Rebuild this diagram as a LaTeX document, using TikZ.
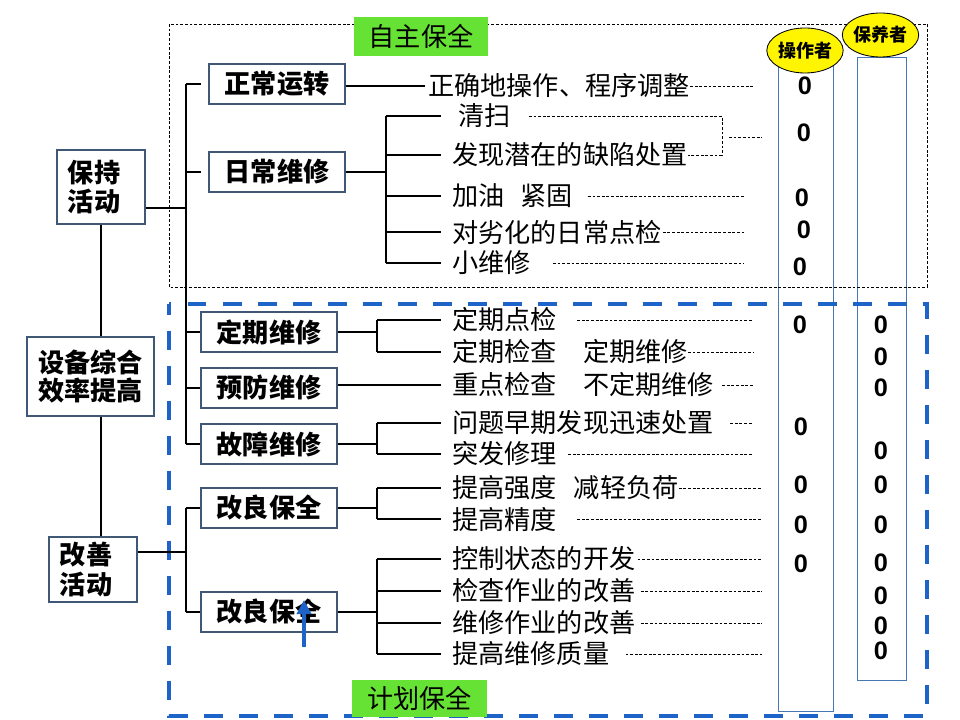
\documentclass[tikz,border=0pt]{standalone}
\usepackage{fontspec}
\setmainfont{Liberation Sans}
\newfontfamily\cjk{Noto Sans CJK SC}
\newfontfamily\zerof{Liberation Sans}
\usetikzlibrary{shapes.geometric,arrows.meta}
\definecolor{boxc}{RGB}{62,88,118}
\definecolor{colc}{RGB}{70,120,180}
\definecolor{blued}{RGB}{30,100,200}
\definecolor{greenl}{RGB}{102,226,52}
\definecolor{yell}{RGB}{255,245,0}
\begin{document}
\begin{tikzpicture}[x=0.025cm,y=-0.025cm,
  box/.style={draw=boxc,line width=0.8pt,fill=white,inner sep=0pt,font=\cjk\bfseries\fontsize{18.6pt}{21pt}\selectfont,minimum width=3.4cm,minimum height=1cm},
  sidebox/.style={draw=boxc,line width=0.8pt,fill=white,inner sep=0pt,font=\cjk\bfseries\fontsize{18.6pt}{21pt}\selectfont},
  item/.style={anchor=west,inner sep=0pt,font=\cjk\fontsize{18.6pt}{21pt}\selectfont},
  tree/.style={line width=0.9pt,black},
  lead/.style={line width=0.6pt,dash pattern=on 2pt off 1.3pt},
  zero/.style={inner sep=0pt,font=\zerof\bfseries\fontsize{18pt}{20pt}\selectfont},
  tag/.style={fill=greenl,inner sep=0pt,font=\cjk\fontsize{18.6pt}{21pt}\selectfont},
  who/.style={ellipse,draw=black,line width=0.6pt,fill=yell,inner sep=0pt,font=\cjk\bfseries\fontsize{12.8pt}{14pt}\selectfont},
  colbox/.style={draw=colc,line width=0.7pt},
  bluedash/.style={draw=blued,line width=2.8pt,dash pattern=on 13.5pt off 11.4pt,dash phase=6pt},
  blackdot/.style={draw=black,line width=0.6pt,dash pattern=on 2pt off 1.3pt},
  arrowc/.style={draw=blued,line width=2.6pt,-{Triangle[length=10pt,width=10pt]}}
]
\useasboundingbox (0,0) rectangle (960,720);

% columns
\draw[colbox] (778,62) rectangle (833,711);
\draw[colbox] (857,57) rectangle (906,680);

% group frames
\draw[bluedash] (169,304) rectangle (927,716);
\draw[blackdot] (169,24) rectangle (927,287);

% left boxes
\node[sidebox,minimum width=2.2cm,minimum height=1.85cm,text width=1.65cm,align=left] (keep) at (101,187) {保持\\活动};
\node[sidebox,minimum width=3.175cm,minimum height=1.975cm,align=center,font=\cjk\bfseries\fontsize{18.6pt}{20pt}\selectfont] (oee) at (90.5,376.5) {设备综合\\效率提高};
\node[sidebox,minimum width=2.2cm,minimum height=1.625cm,text width=1.65cm,align=left] (imp) at (93,569.5) {改善\\活动};

% level 2 boxes
\node[box] (zc) at (277,84) {正常运转};
\node[box] (rc) at (277,172) {日常维修};
\node[box] (dq) at (269,332) {定期维修};
\node[box] (yf) at (269,388) {预防维修};
\node[box] (gz) at (269,444) {故障维修};
\node[box] (gl1) at (269,508) {改良保全};
\node[box] (gl2) at (269,612) {改良保全};

% items
\node[item] (zq) at (428,86) {正确地操作、程序调整};
\node[item] (qs) at (458,116) {清扫};
\node[item] (fx) at (452,155) {发现潜在的缺陷处置};
\node[item] (jy) at (452,196) {加油\hspace{0.6em}紧固};
\node[item] (dl) at (452,232) {对劣化的日常点检};
\node[item] (xw) at (452,263) {小维修};
\node[item] (dd) at (452,320) {定期点检};
\node[item] (dj) at (452,352) {定期检查　定期维修};
\node[item] (zd) at (452,385) {重点检查　不定期维修};
\node[item] (wt) at (452,423) {问题早期发现迅速处置};
\node[item] (tf) at (452,454) {突发修理};
\node[item] (tq) at (452,488) {提高强度\hspace{0.65em}减轻负荷};
\node[item] (tj) at (452,519) {提高精度};
\node[item] (kz) at (452,559) {控制状态的开发};
\node[item] (jc) at (452,591) {检查作业的改善};
\node[item] (wx) at (452,623) {维修作业的改善};
\node[item] (tz) at (452,654) {提高维修质量};

% helper coordinates
\coordinate (T) at (186,0);
\coordinate (jk) at (186,208);
\coordinate (jg) at (186,552);
\coordinate (J1) at (386,0);
\coordinate (J2) at (377,0);
\coordinate (B) at (441,0);
\coordinate (dA) at (753,0);
\coordinate (dB) at (744,0);
\coordinate (dC) at (762,0);
\coordinate (brk) at (722,0);
\coordinate (bm1) at (729,137);
\coordinate (bm2) at (762,137);
\coordinate (ar0) at (304,647);
\coordinate (ar1) at (304,600);

% main tree
\draw[tree] (keep.south) -- (keep.south |- oee.north);
\draw[tree] (oee.south -| keep.south) -- (imp.north -| keep.south);
\draw[tree] (keep.east |- jk) -- (jk);
\draw[tree] (zc.west -| T) -- (gz.west -| T);
\draw[tree] (zc.west -| T) -- ([xshift=-5pt]zc.west);
\draw[tree] (rc.west -| T) -- ([xshift=-5pt]rc.west);
\draw[tree] (dq.west -| T) -- (dq.west);
\draw[tree] (yf.west -| T) -- (yf.west);
\draw[tree] (gz.west -| T) -- (gz.west);
\draw[tree] (imp.east |- jg) -- (jg);
\draw[tree] (gl1.west -| T) -- (gl2.west -| T);
\draw[tree] (gl1.west -| T) -- (gl1.west);
\draw[tree] (gl2.west -| T) -- (gl2.west);

% level 3 connectors
\draw[tree] (zc.east |- zq.west) -- ([xshift=-2pt]zq.west);
\draw[tree] (rc.east) -- (rc.east -| J1);
\draw[tree] (qs.west -| J1) -- (xw.west -| J1);
\foreach \n in {qs,fx,jy,dl,xw} \draw[tree] (\n.west -| J1) -- (\n.west -| B);
\draw[tree] (dq.east) -- (dq.east -| J2);
\draw[tree] (dd.west -| J2) -- (dj.west -| J2);
\foreach \n in {dd,dj} \draw[tree] (\n.west -| J2) -- (\n.west -| B);
\draw[tree] (yf.east |- zd.west) -- (zd.west -| B);
\draw[tree] (gz.east) -- (gz.east -| J2);
\draw[tree] (wt.west -| J2) -- (tf.west -| J2);
\foreach \n in {wt,tf} \draw[tree] (\n.west -| J2) -- (\n.west -| B);
\draw[tree] (gl1.east) -- (gl1.east -| J2);
\draw[tree] (tq.west -| J2) -- (tj.west -| J2);
\foreach \n in {tq,tj} \draw[tree] (\n.west -| J2) -- (\n.west -| B);
\draw[tree] (gl2.east) -- (gl2.east -| J2);
\draw[tree] (kz.west -| J2) -- (tz.west -| J2);
\foreach \n in {kz,jc,wx,tz} \draw[tree] (\n.west -| J2) -- (\n.west -| B);

% dotted leaders
\draw[lead] (zq.east) -- (zq.east -| dA);
\draw[lead] ([xshift=12.8pt]qs.east) -- (qs.east -| brk) -- (fx.east -| brk) -- (fx.east);
\draw[lead] (bm1) -- (bm2);
\draw[lead] ([xshift=10.7pt]jy.east) -- (jy.east -| dB);
\draw[lead] ([xshift=0.7pt]dl.east) -- (dl.east -| dB);
\draw[lead] ([xshift=15.6pt]xw.east) -- (xw.east -| dB);
\draw[lead] ([xshift=14.2pt]dd.east) -- (dd.east -| dA);
\draw[lead] (dj.east) -- (dj.east -| dA);
\draw[lead] ([xshift=5.7pt]zd.east) -- (zd.east -| dA);
\draw[lead] ([xshift=11.4pt]wt.east) -- (wt.east -| dA);
\draw[lead] ([xshift=7.8pt]tf.east) -- (tf.east -| dA);
\draw[lead] (tq.east) -- (tq.east -| dC);
\draw[lead] ([xshift=14.2pt]tj.east) -- (tj.east -| dC);
\draw[lead] ([xshift=1.4pt]kz.east) -- (kz.east -| dC);
\draw[lead] ([xshift=3.6pt]jc.east) -- (jc.east -| dC);
\draw[lead] ([xshift=3.6pt]wx.east) -- (wx.east -| dC);
\draw[lead] ([xshift=11.4pt]tz.east) -- (tz.east -| dC);

% zeros, operator column
\foreach \y/\x [count=\i] in {86/805,133/804,198/802,230/804,267/800,325/800,427/801,485/801,525/801,564/801}
  \node[zero] (za\i) at (\x,\y) {0};
% zeros, maintainer column
\foreach \y [count=\i] in {325,357,388,451,485,525,563,596,626,651}
  \node[zero] (zb\i) at (881,\y) {0};

% tags
\node[tag,minimum width=3.35cm,minimum height=0.975cm] (zz) at (421,36.5) {自主保全};
\node[tag,minimum width=3.375cm,minimum height=0.925cm] (jh) at (419.5,698.5) {计划保全};

% ellipses
\node[who,minimum width=1.9cm,minimum height=1.125cm] (czz) at (805,50.5) {操作者};
\node[who,minimum width=1.875cm,minimum height=1.1cm] (byz) at (880.5,35) {保养者};

% arrow
\draw[arrowc] (ar0) -- (ar1);
\end{tikzpicture}
\end{document}
